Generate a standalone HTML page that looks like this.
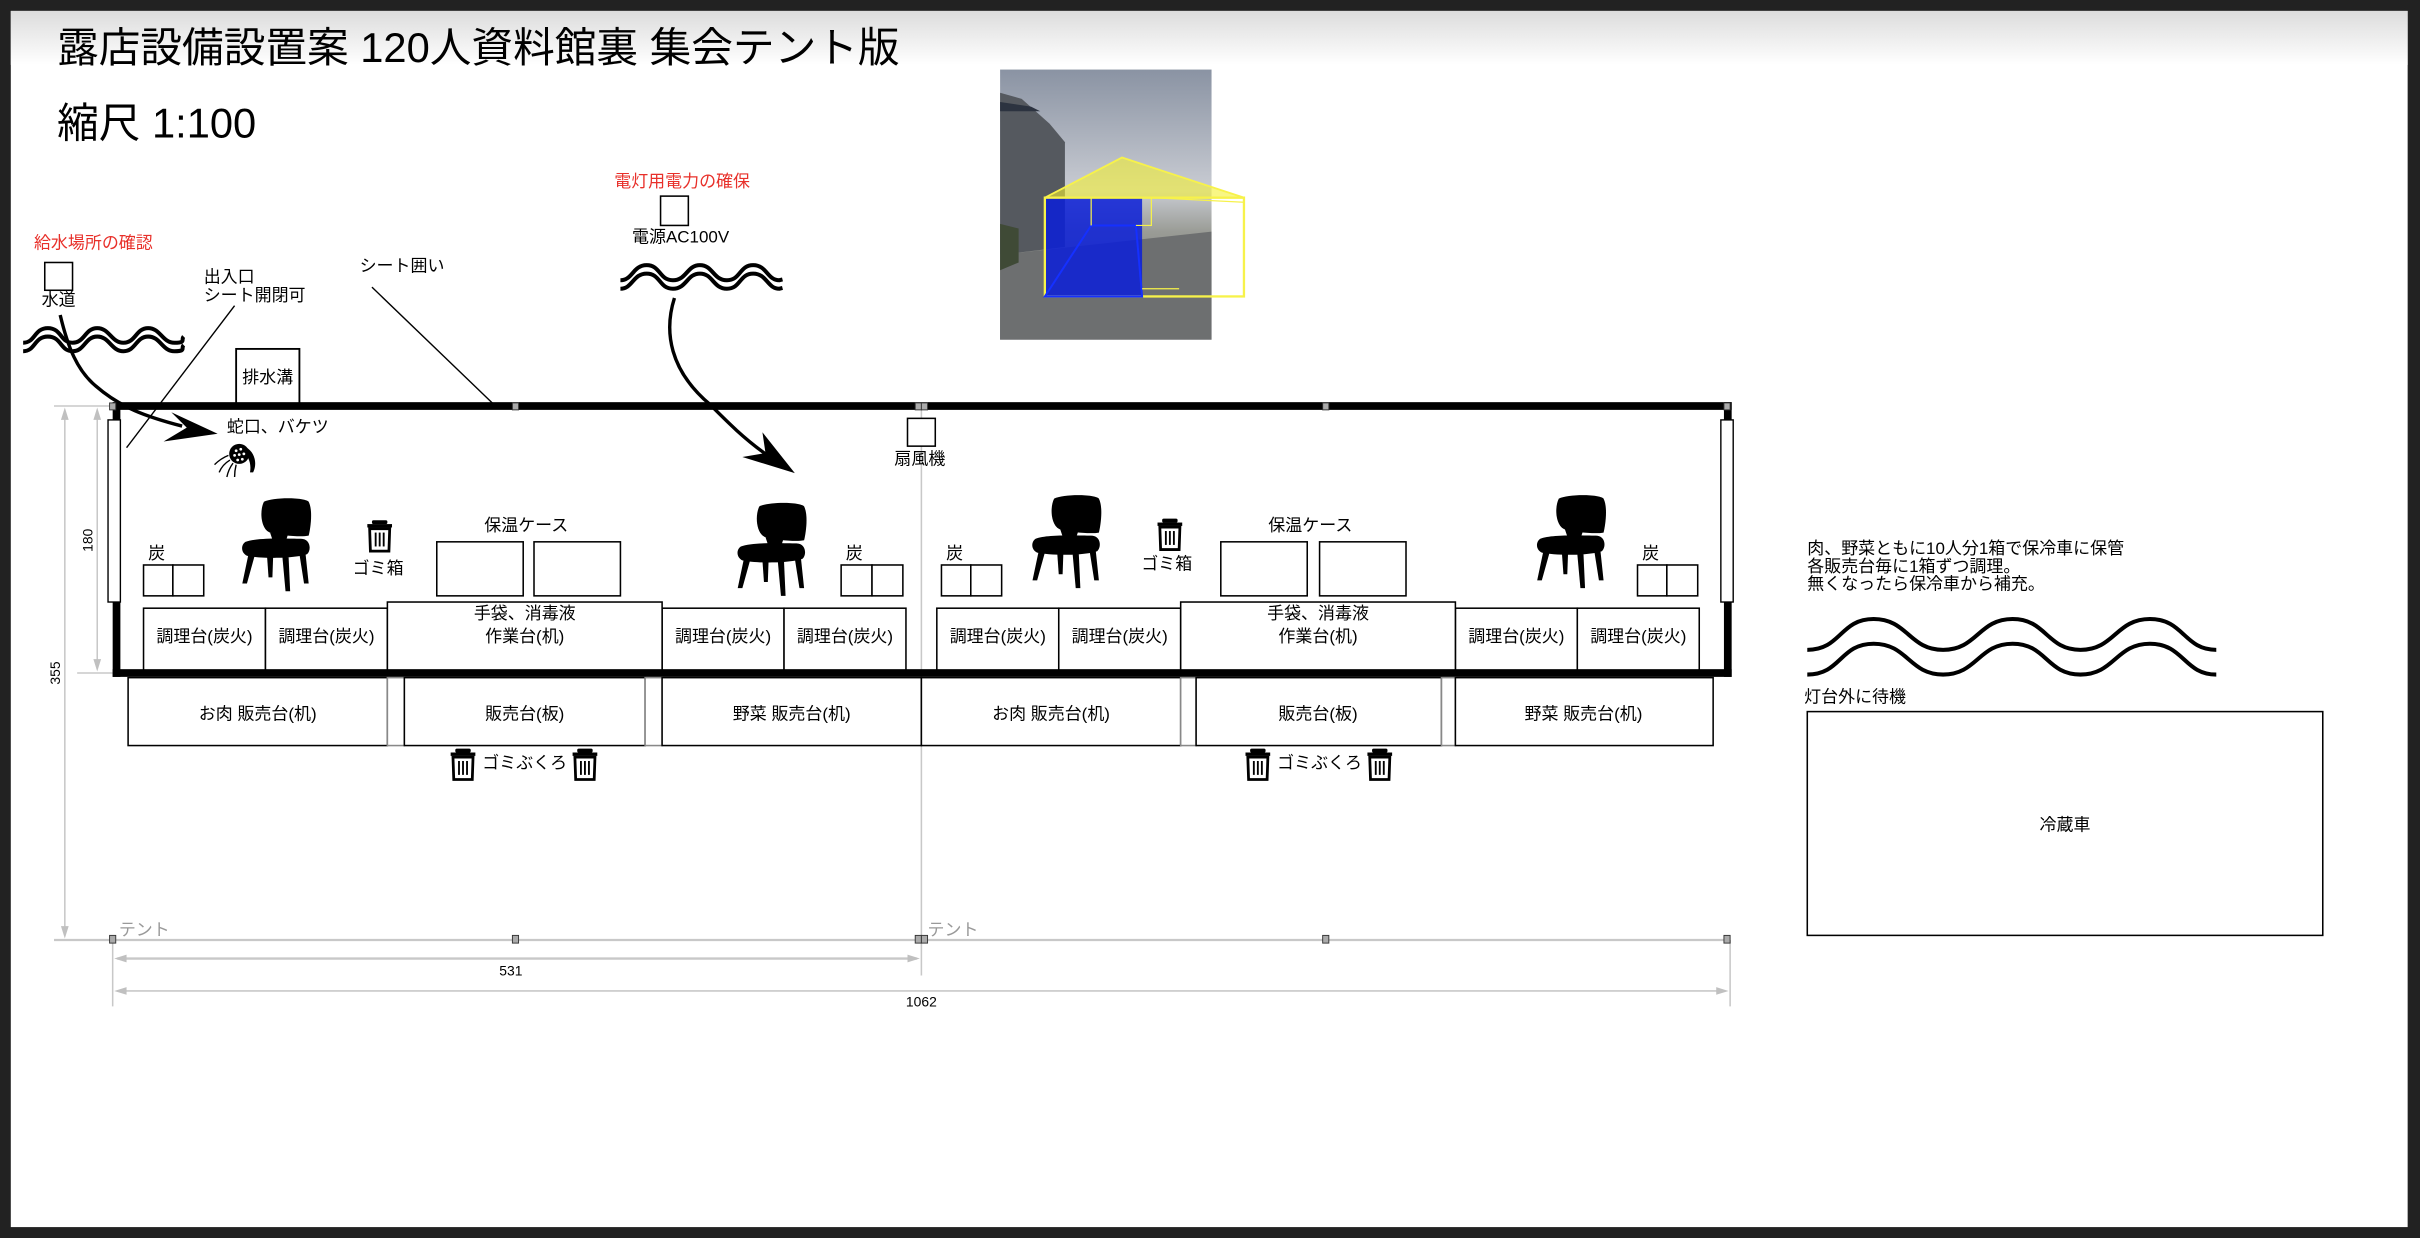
<!DOCTYPE html>
<html><head><meta charset="utf-8">
<style>
html,body{margin:0;padding:0;background:#222;}
svg{display:block;}
text{font-family:"Liberation Sans","Noto Sans CJK JP",sans-serif;}
</style></head>
<body>
<svg width="2420" height="1238" viewBox="0 0 1568 802" xmlns="http://www.w3.org/2000/svg">
<defs>
<linearGradient id="topg" x1="0" y1="0" x2="0" y2="1">
<stop offset="0" stop-color="#dcdcdc"/><stop offset="1" stop-color="#ffffff"/>
</linearGradient>
<linearGradient id="sky" x1="0" y1="0" x2="0" y2="1">
<stop offset="0" stop-color="#8a93a3"/><stop offset="0.45" stop-color="#c9ccd3"/><stop offset="0.6" stop-color="#9a9c96"/><stop offset="1" stop-color="#5b5d60"/>
</linearGradient>
<g id="chair">
<path d="M14,2 C20,-1 40,-1 43,2 C46,8 44,20 43,24 C38,25 26,24 18,22 C12,20 11,8 14,2 Z"/>
<path d="M2,28 C10,25 30,26 38,26 C44,26 45,33 42,36 C34,39 12,39 3,37 C-1,35 -1,30 2,28 Z"/>
<path d="M18,22 L30,22 L28,28 L20,28 Z"/>
<path d="M4,36 L8,37 L3,55 L0,55 Z"/>
<path d="M16,37 L20,37 L19.5,51 L17,51 Z"/>
<path d="M26,38 L30,38 L31,60 L28,60 Z"/>
<path d="M37,36 L41,36 L43,55 L40,55 Z"/>
</g>
<g id="trash">
<rect x="-5" y="0" width="10" height="2.5" rx="1"/>
<rect x="-8" y="2.5" width="16" height="2.2"/>
<path d="M-6.5,5.5 L6.5,5.5 L6,20 L-6,20 Z" fill="none" stroke="#000" stroke-width="1.8"/>
<rect x="-3.2" y="8" width="1.2" height="9"/><rect x="-0.6" y="8" width="1.2" height="9"/><rect x="2" y="8" width="1.2" height="9"/>
</g>
</defs>

<rect x="7" y="7" width="1553" height="788" fill="#fff"/>
<rect x="7" y="7" width="1553" height="35" fill="url(#topg)"/>

<!-- titles -->
<text x="37" y="40" font-size="27">露店設備設置案 120人資料館裏 集会テント版</text>
<text x="37" y="89" font-size="27">縮尺 1:100</text>

<!-- photo -->
<g>
<rect x="648" y="45" width="137" height="175" fill="url(#sky)"/>
<path d="M648,60 L662,64 L680,80 L690,92 L690,160 L648,165 Z" fill="#55595f"/>
<path d="M648,66 L668,69 L674,72 L648,72 Z" fill="#2c3340"/>
<path d="M648,165 L785,150 L785,220 L648,220 Z" fill="#6d6f70"/>
<path d="M648,145 L660,148 L660,170 L648,175 Z" fill="#3f4a36"/>
<polygon points="677,128 727,102 806,128" fill="#f4f033" fill-opacity="0.6" stroke="#f7f24a" stroke-width="1.2"/>
<rect x="677" y="128" width="63" height="64" fill="#0a1fd8" fill-opacity="0.85"/>
<rect x="677" y="128" width="129" height="64" fill="none" stroke="#f7f24a" stroke-width="1.5"/>
<polygon points="707,146 736,146 740,192 677,192" fill="none" stroke="#1530ff" stroke-width="1.3"/>
<polyline points="707,146 707,128" fill="none" stroke="#f7f24a" stroke-width="0.8"/>
<polyline points="736,146 746,146 746,128 806,131" fill="none" stroke="#f7f24a" stroke-width="0.8"/>
<line x1="740" y1="187" x2="764" y2="187" stroke="#f7f24a" stroke-width="0.8"/>
</g>

<!-- red labels -->
<text x="22" y="161" font-size="11" fill="#e8302a">給水場所の確認</text>
<rect x="29" y="170" width="18" height="18" fill="#fff" stroke="#000" stroke-width="1"/>
<text x="38" y="198" font-size="11" text-anchor="middle">水道</text>
<text x="398" y="121" font-size="11" fill="#e8302a">電灯用電力の確保</text>
<rect x="428" y="127" width="18" height="19" fill="#fff" stroke="#000" stroke-width="1"/>
<text x="441" y="157" font-size="11" text-anchor="middle">電源AC100V</text>

<!-- waves -->
<g fill="none" stroke="#000" stroke-width="2.6">
<path d="M15,222 C23,222 22,212.5 31,212.5 S39,222 47,222 S55,212.5 63,212.5 S72,222 80,222 S88,212.5 96,212.5 S105,222 113,222 S117,220 119,218"/>
<path d="M15,227.5 C23,227.5 22,218 31,218 S39,227.5 47,227.5 S55,218 63,218 S72,227.5 80,227.5 S88,218 96,218 S105,227.5 113,227.5 S117,225.5 119,223.5"/>
<path d="M402,181.5 C410,181.5 410,171.7 419,171.7 S427,181.5 436,181.5 S445,171.7 453.5,171.7 S462,181.5 471,181.5 S479,171.7 488,171.7 S497,181.5 505,181.5 L507,181"/>
<path d="M402,187 C410,187 410,177.2 419,177.2 S427,187 436,187 S445,177.2 453.5,177.2 S462,187 471,187 S479,177.2 488,177.2 S497,187 505,187 L507,186.5"/>
<path d="M1171,421 C1193,421 1192,401 1214,401 S1237,421 1259,421 S1282,401 1304,401 S1326,421 1348,421 S1371,401 1393,401 S1415,421 1436,421"/>
<path d="M1171,437 C1193,437 1192,417 1214,417 S1237,437 1259,437 S1282,417 1304,417 S1326,437 1348,437 S1371,417 1393,417 S1415,437 1436,437"/>
</g>

<!-- arrows -->
<path d="M39,204 C44,225 50,240 62,250 C78,264 95,270 118,276" fill="none" stroke="#000" stroke-width="2.2"/>
<polygon points="141,281 111,267 121,277 106,286" fill="#000"/>
<path d="M437,193 C430,215 434,240 460,262 C472,274 482,284 496,294" fill="none" stroke="#000" stroke-width="2.2"/>
<polygon points="515,306.5 494,280 496,293.5 481,296" fill="#000"/>

<!-- pointer lines -->
<text x="132" y="183" font-size="11">出入口</text>
<text x="132" y="195" font-size="11">シート開閉可</text>
<line x1="152" y1="198" x2="82" y2="290" stroke="#000" stroke-width="0.9"/>
<text x="233" y="176" font-size="11">シート囲い</text>
<line x1="241" y1="186" x2="320" y2="262" stroke="#000" stroke-width="0.9"/>
<rect x="153" y="226" width="41" height="36" fill="#fff" stroke="#000" stroke-width="1.2"/>
<text x="173.5" y="248" font-size="11" text-anchor="middle">排水溝</text>

<!-- dimension lines -->
<g stroke="#c8c8c8" stroke-width="1" fill="none">
<line x1="35" y1="263" x2="73" y2="263"/>
<line x1="50" y1="436" x2="73" y2="436"/>
<line x1="35" y1="609" x2="1121" y2="609" stroke-width="1.5"/>
<line x1="42" y1="266" x2="42" y2="606"/>
<line x1="63" y1="266" x2="63" y2="433"/>
<line x1="73" y1="609" x2="73" y2="652"/>
<line x1="597" y1="263" x2="597" y2="632"/>
<line x1="1121" y1="609" x2="1121" y2="652"/>
<line x1="76" y1="621" x2="594" y2="621" stroke-width="1.5"/>
<line x1="76" y1="642" x2="1118" y2="642"/>
</g>
<g fill="#c0c0c0">
<polygon points="42,264 39.5,272 44.5,272"/><polygon points="42,608 39.5,600 44.5,600"/>
<polygon points="63,264 60.5,272 65.5,272"/><polygon points="63,435 60.5,427 65.5,427"/>
<polygon points="74,621 82,618.5 82,623.5"/><polygon points="596,621 588,618.5 588,623.5"/>
<polygon points="74,642 82,639.5 82,644.5"/><polygon points="1120,642 1112,639.5 1112,644.5"/>
</g>
<text x="331" y="632" font-size="9" text-anchor="middle">531</text>
<text x="597" y="652" font-size="9" text-anchor="middle">1062</text>
<text transform="translate(60,350) rotate(-90)" font-size="9" text-anchor="middle">180</text>
<text transform="translate(39,436) rotate(-90)" font-size="9" text-anchor="middle">355</text>
<text x="77" y="606" font-size="11" fill="#999">テント</text>
<text x="601" y="606" font-size="11" fill="#999">テント</text>

<!-- tent walls -->
<g fill="#000">
<rect x="73" y="260.5" width="1049" height="5"/>
<rect x="73" y="433.5" width="1049" height="5"/>
<rect x="73" y="260.5" width="5" height="178"/>
<rect x="1117" y="260.5" width="5" height="178"/>
</g>
<rect x="70" y="272" width="8" height="118" fill="#fff" stroke="#000" stroke-width="0.9"/>
<rect x="1115" y="272" width="8" height="118" fill="#fff" stroke="#000" stroke-width="0.9"/>
<g fill="#aaa" stroke="#333" stroke-width="0.6">
<rect x="71" y="261" width="4" height="4.5"/><rect x="332" y="261" width="4" height="4.5"/>
<rect x="593" y="261" width="4" height="4.5"/><rect x="597" y="261" width="4" height="4.5"/>
<rect x="857" y="261" width="4" height="4.5"/><rect x="1117" y="261" width="4" height="4.5"/>
<rect x="71" y="606" width="4" height="5"/><rect x="332" y="606" width="4" height="5"/>
<rect x="593" y="606" width="4" height="5"/><rect x="597" y="606" width="4" height="5"/>
<rect x="857" y="606" width="4" height="5"/><rect x="1117" y="606" width="4" height="5"/>
</g>

<!-- fan -->
<rect x="588" y="271" width="18" height="18" fill="#fff" stroke="#000" stroke-width="1"/>
<text x="596" y="301" font-size="11" text-anchor="middle">扇風機</text>

<!-- faucet -->
<text x="147" y="280" font-size="11">蛇口、バケツ</text>
<g>
<ellipse cx="155" cy="294" rx="6.5" ry="6.5" fill="#000"/>
<path d="M158,289 C165,292 167,300 164,306 L162,306 C163,300 161,295 157,293 Z" fill="#000"/>
<g fill="#fff"><circle cx="153" cy="292" r="0.9"/><circle cx="156" cy="291" r="0.9"/><circle cx="152" cy="295" r="0.9"/><circle cx="155" cy="294.5" r="0.9"/><circle cx="158" cy="294" r="0.9"/><circle cx="154" cy="298" r="0.9"/><circle cx="157" cy="297.5" r="0.9"/></g>
<g stroke="#000" stroke-width="0.9" fill="none"><path d="M148,295 Q143,297 139,301"/><path d="M149,298 Q144,301 142,306"/><path d="M151,300 Q148,304 147,309"/><path d="M153,301 Q152,305 152,309"/></g>
</g>

<!-- chairs -->
<use href="#chair" x="157" y="323"/>
<use href="#chair" x="478" y="326"/>
<use href="#chair" x="669" y="321"/>
<use href="#chair" x="996" y="321"/>

<!-- trash -->
<use href="#trash" x="246" y="337"/>
<text x="245" y="372" font-size="11" text-anchor="middle">ゴミ箱</text>
<use href="#trash" x="758" y="336"/>
<text x="756" y="369" font-size="11" text-anchor="middle">ゴミ箱</text>

<!-- warming cases -->
<g fill="#fff" stroke="#000" stroke-width="1">
<rect x="283" y="351" width="56" height="35"/><rect x="346" y="351" width="56" height="35"/>
<rect x="791" y="351" width="56" height="35"/><rect x="855" y="351" width="56" height="35"/>
</g>
<text x="341" y="344" font-size="11" text-anchor="middle">保温ケース</text>
<text x="849" y="344" font-size="11" text-anchor="middle">保温ケース</text>

<!-- charcoal -->
<g fill="#fff" stroke="#000" stroke-width="1">
<rect x="93" y="366" width="19" height="20"/><rect x="112" y="366" width="20" height="20"/>
<rect x="545" y="366" width="20" height="20"/><rect x="565" y="366" width="20" height="20"/>
<rect x="610" y="366" width="19" height="20"/><rect x="629" y="366" width="20" height="20"/>
<rect x="1061" y="366" width="19" height="20"/><rect x="1080" y="366" width="20" height="20"/>
</g>
<g font-size="11"><text x="96" y="362">炭</text><text x="548" y="362">炭</text><text x="613" y="362">炭</text><text x="1064" y="362">炭</text></g>

<!-- cooking tables -->
<g fill="#fff" stroke="#000" stroke-width="1">
<rect x="93" y="394" width="79" height="40"/><rect x="172" y="394" width="79" height="40"/>
<rect x="429" y="394" width="79" height="40"/><rect x="508" y="394" width="79" height="40"/>
<rect x="607" y="394" width="79" height="40"/><rect x="686" y="394" width="79" height="40"/>
<rect x="943" y="394" width="79" height="40"/><rect x="1022" y="394" width="79" height="40"/>
<rect x="251" y="390" width="178" height="44"/><rect x="765" y="390" width="178" height="44"/>
</g>
<g font-size="11" text-anchor="middle">
<text x="132.5" y="416">調理台(炭火)</text><text x="211.5" y="416">調理台(炭火)</text>
<text x="468.5" y="416">調理台(炭火)</text><text x="547.5" y="416">調理台(炭火)</text>
<text x="646.5" y="416">調理台(炭火)</text><text x="725.5" y="416">調理台(炭火)</text>
<text x="982.5" y="416">調理台(炭火)</text><text x="1061.5" y="416">調理台(炭火)</text>
<text x="340" y="401">手袋、消毒液</text><text x="340" y="416">作業台(机)</text>
<text x="854" y="401">手袋、消毒液</text><text x="854" y="416">作業台(机)</text>
</g>

<!-- sales tables -->
<g fill="#fff" stroke="#000" stroke-width="1">
<rect x="83" y="439" width="168" height="44"/><rect x="251" y="439" width="11" height="44" stroke="#888"/>
<rect x="262" y="439" width="156" height="44"/><rect x="418" y="439" width="11" height="44" stroke="#888"/>
<rect x="429" y="439" width="168" height="44"/>
<rect x="597" y="439" width="168" height="44"/><rect x="765" y="439" width="10" height="44" stroke="#888"/>
<rect x="775" y="439" width="159" height="44"/><rect x="934" y="439" width="9" height="44" stroke="#888"/>
<rect x="943" y="439" width="167" height="44"/>
</g>
<g font-size="11" text-anchor="middle">
<text x="167" y="466">お肉 販売台(机)</text><text x="340" y="466">販売台(板)</text><text x="513" y="466">野菜 販売台(机)</text>
<text x="681" y="466">お肉 販売台(机)</text><text x="854" y="466">販売台(板)</text><text x="1026" y="466">野菜 販売台(机)</text>
</g>
<use href="#trash" x="300" y="485"/><use href="#trash" x="379" y="485"/>
<text x="340" y="498" font-size="11" text-anchor="middle">ゴミぶくろ</text>
<use href="#trash" x="815" y="485"/><use href="#trash" x="894" y="485"/>
<text x="855" y="498" font-size="11" text-anchor="middle">ゴミぶくろ</text>

<!-- right notes -->
<g font-size="11">
<text x="1171" y="359">肉、野菜ともに10人分1箱で保冷車に保管</text>
<text x="1171" y="370.5">各販売台毎に1箱ずつ調理。</text>
<text x="1171" y="382">無くなったら保冷車から補充。</text>
<text x="1169" y="455">灯台外に待機</text>
</g>
<rect x="1171" y="461" width="334" height="145" fill="#fff" stroke="#000" stroke-width="1"/>
<text x="1338" y="538" font-size="11" text-anchor="middle">冷蔵車</text>
</svg>
</body></html>
